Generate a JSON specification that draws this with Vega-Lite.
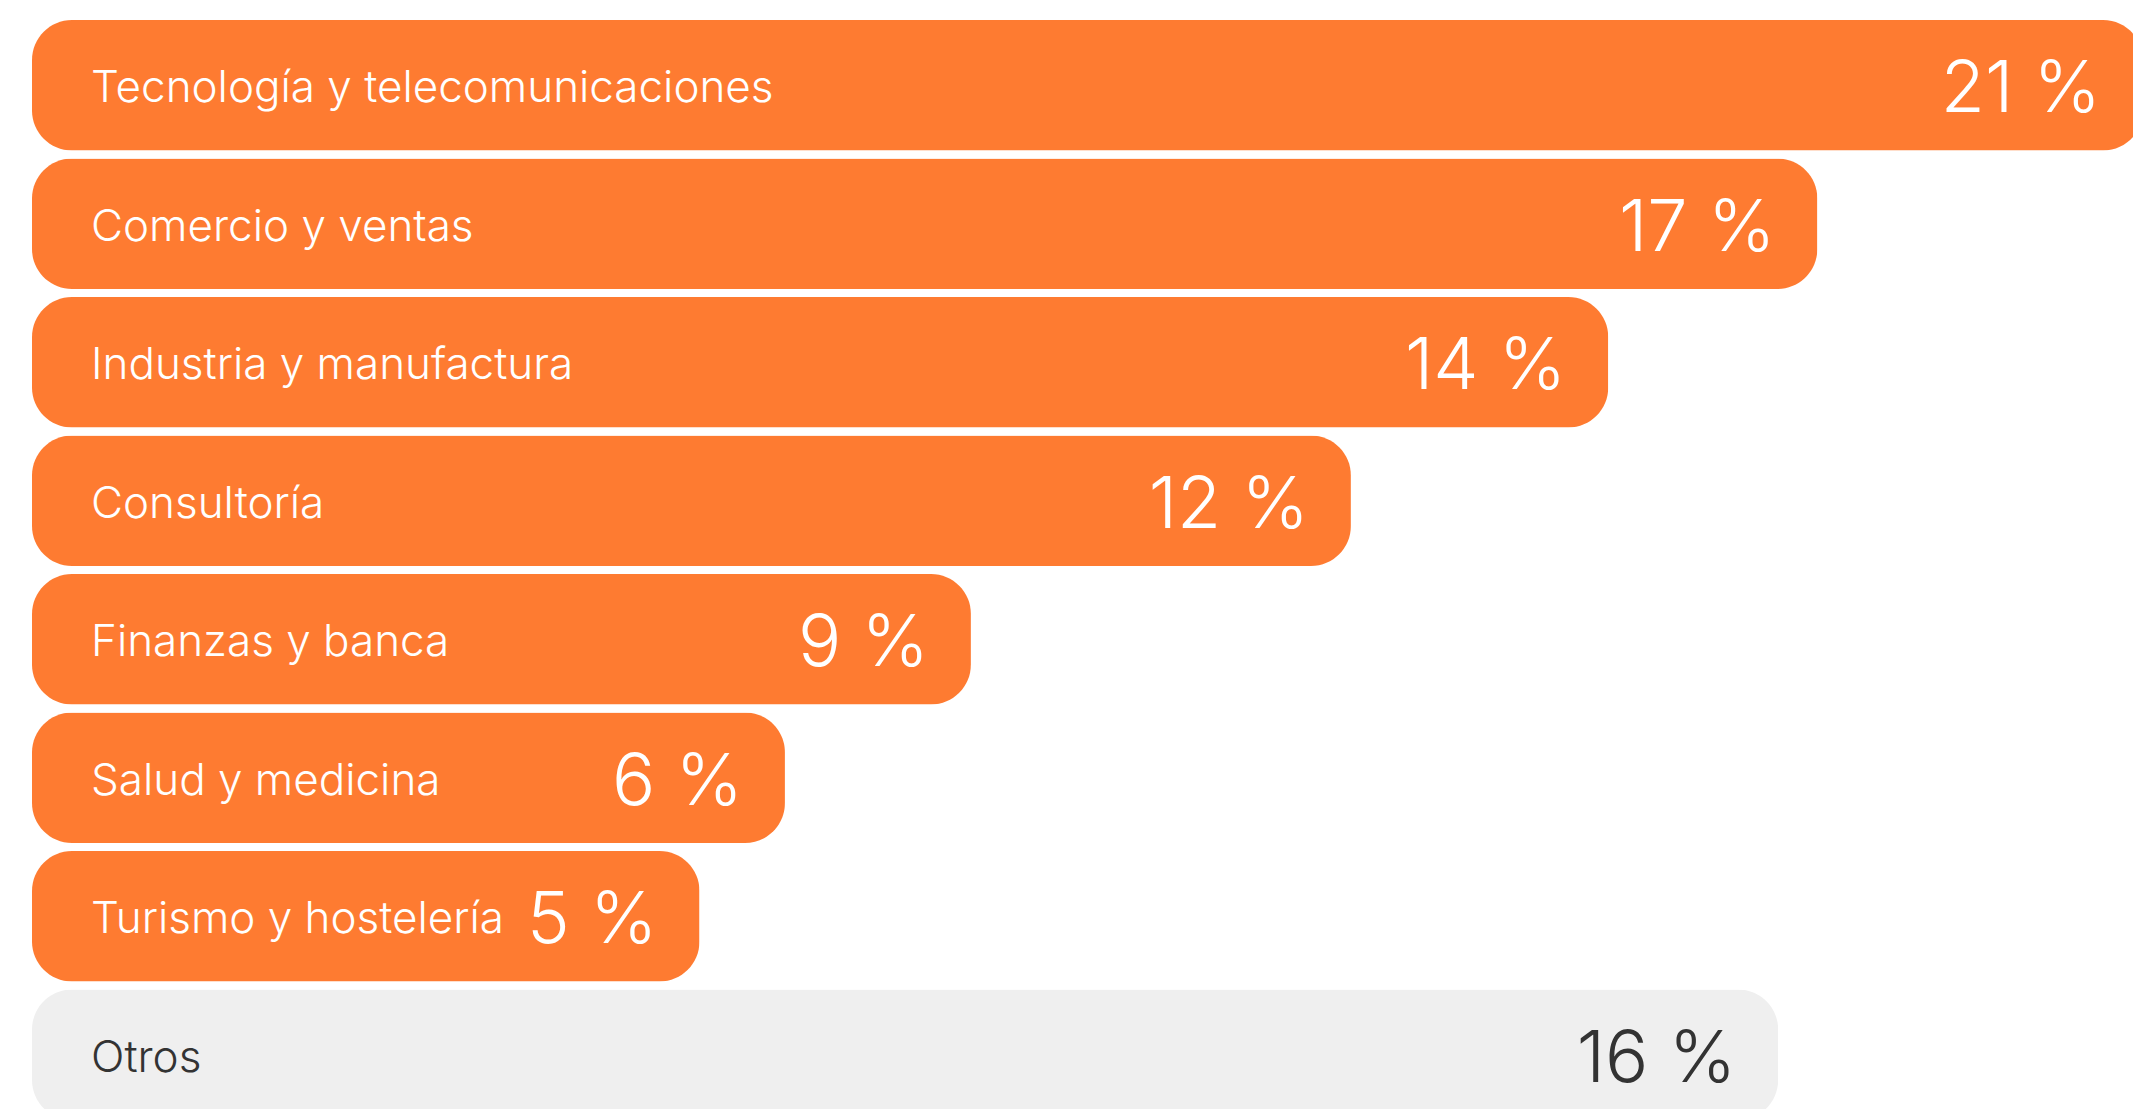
{
  "$schema": "https://vega.github.io/schema/vega-lite/v6.json",
  "autosize": {"type": "none"},
  "width": 2101,
  "height": 1100,
  "padding": {"left": 32, "top": 20, "right": 0, "bottom": -11},
  "background": "#ffffff",
  "config": {"view": {"stroke": null}, "font": "Inter"},
  "data": {
    "values": [
      {"sector": "Tecnología y telecomunicaciones", "longitud": 21.0, "etiqueta": "21 %", "grupo": "sector"},
      {"sector": "Comercio y ventas", "longitud": 17.76, "etiqueta": "17 %", "grupo": "sector"},
      {"sector": "Industria y manufactura", "longitud": 15.68, "etiqueta": "14 %", "grupo": "sector"},
      {"sector": "Consultoría", "longitud": 13.12, "etiqueta": "12 %", "grupo": "sector"},
      {"sector": "Finanzas y banca", "longitud": 9.34, "etiqueta": "9 %", "grupo": "sector"},
      {"sector": "Salud y medicina", "longitud": 7.49, "etiqueta": "6 %", "grupo": "sector"},
      {"sector": "Turismo y hostelería", "longitud": 6.64, "etiqueta": "5 %", "grupo": "sector"},
      {"sector": "Otros", "longitud": 17.37, "etiqueta": "16 %", "grupo": "otros"}
    ]
  },
  "encoding": {
    "y": {
      "field": "sector",
      "type": "nominal",
      "sort": null,
      "axis": null,
      "scale": {"type": "band", "paddingInner": 0.058, "paddingOuter": 0}
    }
  },
  "layer": [
    {
      "mark": {"type": "bar", "cornerRadius": 40},
      "encoding": {
        "x": {"field": "longitud", "type": "quantitative", "axis": null, "scale": {"domain": [0, 20.9], "nice": false, "zero": true}},
        "color": {"condition": {"test": "datum.grupo === 'otros'", "value": "#EFEFEF"}, "value": "#FE7B31"}
      }
    },
    {
      "mark": {"type": "text", "align": "left", "baseline": "alphabetic", "dx": 59, "dy": 17, "fontSize": 44, "fontWeight": 300, "font": "Inter"},
      "encoding": {
        "x": {"datum": 0, "type": "quantitative"},
        "text": {"field": "sector"},
        "color": {"condition": {"test": "datum.grupo === 'otros'", "value": "#333333"}, "value": "#FFFFFF"}
      }
    },
    {
      "mark": {"type": "text", "align": "right", "baseline": "alphabetic", "dx": -42, "dy": 27, "fontSize": 72, "fontWeight": 300, "font": "Inter"},
      "encoding": {
        "x": {"field": "longitud", "type": "quantitative"},
        "text": {"field": "etiqueta"},
        "color": {"condition": {"test": "datum.grupo === 'otros'", "value": "#333333"}, "value": "#FFFFFF"}
      }
    }
  ]
}
